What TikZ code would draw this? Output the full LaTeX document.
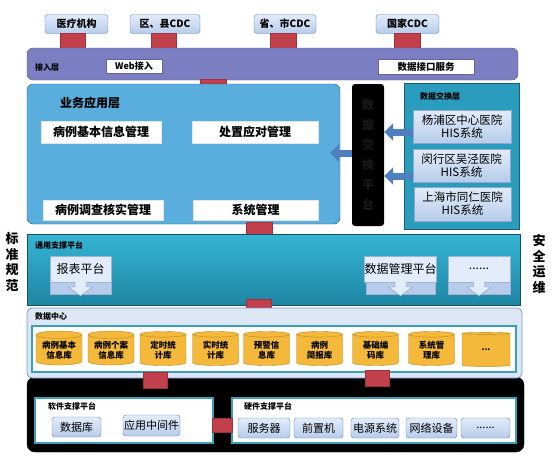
\documentclass[tikz,border=0pt]{standalone}
\usepackage{fontspec}
\setmainfont{Noto Sans CJK SC}
\usetikzlibrary{shapes.geometric,arrows.meta,calc}
\definecolor{redc}{HTML}{C1404B}
\definecolor{topfillA}{HTML}{E2ECFA}
\definecolor{topfillB}{HTML}{B7CCEA}
\definecolor{topdraw}{HTML}{5C82BA}
\definecolor{accessc}{HTML}{7B7EC0}
\definecolor{bizc}{HTML}{5AAEDE}
\definecolor{tealc}{HTML}{2A9CBD}
\definecolor{supA}{HTML}{36B4D4}
\definecolor{supB}{HTML}{1E86A3}
\definecolor{dcfill}{HTML}{DCE6F5}
\definecolor{dcdraw}{HTML}{7A9CCF}
\definecolor{innerdraw}{HTML}{3AA0B5}
\definecolor{cylc}{HTML}{F4B83A}
\definecolor{cyld}{HTML}{B98A20}
\definecolor{arrowc}{HTML}{4F7FBF}
\tikzset{
  topbox/.style={rounded corners=3pt, draw=topdraw, top color=topfillA, bottom color=topfillB, font=\bfseries\fontsize{10}{12}\selectfont, inner sep=0pt},
  redconn/.style={fill=redc, draw=redc!80!black, line width=0.3pt, inner sep=0pt},
  whitebox/.style={fill=white, draw=white!80!gray, inner sep=0pt, font=\bfseries\fontsize{12}{14}\selectfont},
  hisbox/.style={draw=topdraw!70, top color=topfillA, bottom color=topfillB, inner sep=0pt, align=center, font=\fontsize{11.5}{13}\selectfont},
  layerlabel/.style={anchor=west, inner sep=0pt, font=\bfseries\fontsize{8}{10}\selectfont},
  cyl/.style={cylinder, shape border rotate=90, aspect=0.22, draw=cyld, fill=cylc, inner sep=0pt, align=center, font=\bfseries\fontsize{8.5}{10}\selectfont},
  smallbox/.style={rounded corners=3pt, draw=topdraw, top color=topfillA, bottom color=topfillB, inner sep=0pt, font=\fontsize{11}{13}\selectfont},
  suptop/.style={draw=topdraw!60, fill=topfillA, inner sep=0pt, font=\fontsize{12}{14}\selectfont},
  blueArrow/.style={line width=7pt, color=arrowc, -{Triangle[length=9pt,width=17pt]}},
  sidelabel/.style={align=center, inner sep=0pt, font=\bfseries\fontsize{13}{15.5}\selectfont}
}
\begin{document}
\begin{tikzpicture}[x=1pt,y=-1pt]
\useasboundingbox[fill=white] (0,0) rectangle (552,464);

% ---- top sources
\node[topbox, minimum width=63, minimum height=19] (yl) at (76.5,24) {医疗机构};
\node[topbox, minimum width=70, minimum height=19] (qx) at (165,24) {区、县CDC};
\node[topbox, minimum width=62, minimum height=19] (ss) at (285,24) {省、市CDC};
\node[topbox, minimum width=63, minimum height=19] (gj) at (407.5,24) {国家CDC};
\node[redconn, minimum width=25, minimum height=16] (r1) at (72.5,41) {};
\node[redconn, minimum width=25, minimum height=16] (r2) at (163.5,41) {};
\node[redconn, minimum width=26, minimum height=16] (r3) at (283,41) {};
\node[redconn, minimum width=26, minimum height=16] (r4) at (407,41) {};

% ---- access layer
\draw[rounded corners=6pt, fill=accessc, draw=accessc!70!black] (27,48) rectangle (518,80);
\node[layerlabel] (jrc) at (35,67) {接入层};
\node[fill=white, draw=accessc!80!black, line width=0.8pt, inner sep=0pt, minimum width=56, minimum height=14, font=\bfseries\fontsize{9}{11}\selectfont] (web) at (134,66) {Web接入};
\node[fill=white, draw=accessc!80!black, line width=0.8pt, inner sep=0pt, minimum width=96, minimum height=15, font=\bfseries\fontsize{9.5}{11}\selectfont] (sjjk) at (426,66.5) {数据接口服务};
\node[redconn, minimum width=26, minimum height=15] (r5) at (213,87) {};

% ---- business layer
\draw[rounded corners=6pt, fill=bizc, draw=bizc!50!black] (27,84) rectangle (340,224);
\node[anchor=west, inner sep=0pt, font=\bfseries\fontsize{12}{14}\selectfont] (ywc) at (60,103) {业务应用层};
\node[whitebox, minimum width=120, minimum height=22] (b1) at (101,132) {病例基本信息管理};
\node[whitebox, minimum width=126, minimum height=22] (b2) at (255,132) {处置应对管理};
\node[whitebox, minimum width=120, minimum height=20] (b3) at (103,210) {病例调查核实管理};
\node[whitebox, minimum width=125, minimum height=20] (b4) at (255.5,210) {系统管理};
\node[redconn, minimum width=26, minimum height=15] (r6) at (259,229.5) {};

% ---- exchange platform bar
\node[fill=black, rounded corners=3pt, minimum width=32, minimum height=142, inner sep=0pt, align=center, text=black!90!white, font=\bfseries\fontsize{12}{20}\selectfont] (bar) at (368,155) {数\\据\\交\\换\\平\\台};

% ---- data exchange layer
\draw[fill=tealc, draw=tealc!60!black] (404,83) rectangle (519,229);
\node[layerlabel] (jhc) at (420,96) {数据交换层};
\node[hisbox, minimum width=98, minimum height=33] (h1) at (462,126.5) {杨浦区中心医院\\HIS系统};
\node[hisbox, minimum width=97, minimum height=33] (h2) at (461.5,165.5) {闵行区吴泾医院\\HIS系统};
\node[hisbox, minimum width=97, minimum height=34] (h3) at (462.5,204) {上海市同仁医院\\HIS系统};

\draw[blueArrow] ([yshift=-5.5pt]h1.west) -- ([yshift=-5.5pt]h1.west -| bar.east);
\draw[blueArrow] ([yshift=-10.5pt]h2.west) -- ([yshift=-10.5pt]h2.west -| bar.east);
\coordinate (bizE) at (330,153);
\draw[blueArrow] (bar.west |- bizE) -- (bizE);

% ---- side labels
\node[sidelabel] (bzgf) at (12,262) {标\\准\\规\\范};
\node[sidelabel] (aqyw) at (539,264) {安\\全\\运\\维};

% ---- common support platform
\draw[top color=supA, bottom color=supB, draw=supB!60!black] (27,234) rectangle (520,305);
\node[layerlabel] (tyzc) at (35,245) {通用支撑平台};
\foreach \nm/\xa/\xb/\txt in {bb/50/111/报表平台, sjgl/366/435/数据管理平台, dots/448/510/{......}}{
  \node[suptop, minimum width=\xb-\xa, minimum height=26] (\nm) at ({(\xa+\xb)/2},269) {\txt};
  \draw[draw=topdraw!60, fill=topfillB] (\xa,282) rectangle (\xb,294);
  \draw[draw=topdraw!80, fill=topfillA] ({(\xa+\xb)/2-5.5},282) -- ({(\xa+\xb)/2-5.5},287) -- ({(\xa+\xb)/2-12},287)
     -- ({(\xa+\xb)/2},296) -- ({(\xa+\xb)/2+12},287) -- ({(\xa+\xb)/2+5.5},287) -- ({(\xa+\xb)/2+5.5},282);
}
\node[redconn, minimum width=25, minimum height=15] (r7) at (258.5,306.5) {};

% ---- infrastructure background
\draw[rounded corners=8pt, fill=black] (27,377) rectangle (524,452);

% ---- data center
\draw[rounded corners=5pt, fill=dcfill, draw=dcdraw, line width=0.8pt] (27,308) rectangle (522,378);
\node[layerlabel] (sjzx) at (35,316) {数据中心};
\draw[fill=white, draw=innerdraw, line width=1.2pt] (32,326) rectangle (516,372);
\foreach \nm/\cx/\txt in {c1/59/{病例基本\\信息库}, c2/111/{病例个案\\信息库}, c3/163/{定时统\\计库}, c4/215.5/{实时统\\计库}, c5/266.5/{预警信\\息库}, c6/319.5/{病例\\简报库}, c7/375.5/{基础编\\码库}, c8/431.5/{系统管\\理库}}{
  \node[cyl, minimum width=46, minimum height=34] (\nm) at (\cx,350) {\txt};
}
\node[cyl, minimum width=48, minimum height=34] (c9) at (486,350) {...};
\node[redconn, minimum width=24, minimum height=16] (r8) at (155,380) {};
\node[redconn, minimum width=24, minimum height=16] (r9) at (377,378) {};

% ---- platforms
\draw[fill=white, draw=innerdraw, line width=1.5pt] (35,398) rectangle (213,443);
\node[layerlabel] (rjzc) at (48,406) {软件支撑平台};
\node[smallbox, minimum width=49, minimum height=20] (sjk) at (76.5,427) {数据库};
\node[smallbox, minimum width=57, minimum height=21] (yyzj) at (151.5,425.5) {应用中间件};
\draw[fill=white, draw=innerdraw, line width=1.5pt] (232,398) rectangle (516,443);
\node[layerlabel] (yjzc) at (244,406) {硬件支撑平台};
\node[redconn, minimum width=20, minimum height=14] (r10) at (222,425) {};
\node[smallbox, minimum width=52, minimum height=20] (fwq) at (264,428) {服务器};
\node[smallbox, minimum width=49, minimum height=20] (qzj) at (318.5,428) {前置机};
\node[smallbox, minimum width=48, minimum height=20] (dy) at (375,428) {电源系统};
\node[smallbox, minimum width=51, minimum height=20] (wl) at (431.5,428) {网络设备};
\node[smallbox, minimum width=49, minimum height=20] (dd) at (485.5,428) {......};
\end{tikzpicture}
\end{document}
